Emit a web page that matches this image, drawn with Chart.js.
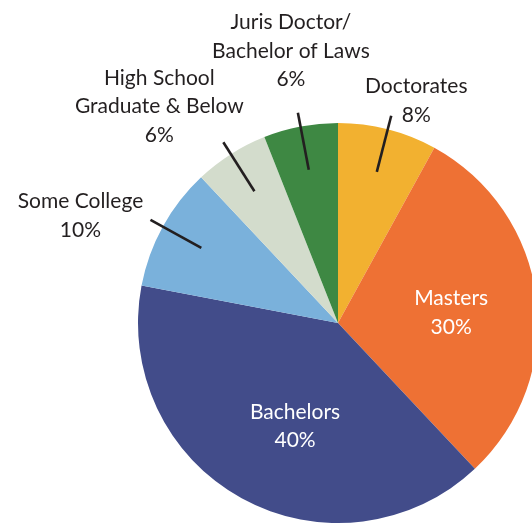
<!DOCTYPE html>
<html>
<head>
<meta charset="utf-8">
<script src="https://cdn.jsdelivr.net/npm/chart.js@4.4.1/dist/chart.umd.min.js"></script>
<style>
  html, body { margin: 0; padding: 0; background: #fff; overflow: hidden; }
  #wrap { width: 532px; height: 525px; overflow: hidden; position: relative; }
  canvas { display: block; }
</style>
</head>
<body>
<div id="wrap"><canvas id="c" width="542" height="525"></canvas></div>
<script>
const categories = ['Doctorates', 'Masters', 'Bachelors', 'Some College', 'High School Graduate & Below', 'Juris Doctor/Bachelor of Laws'];
const labelLines = [['Doctorates'], ['Masters'], ['Bachelors'], ['Some College'], ['High School', 'Graduate & Below'], ['Juris Doctor/', 'Bachelor of Laws']];
const shares = [8, 30, 40, 10, 6, 6];
const colors = ['#F2B130', '#EE7134', '#424C8A', '#7AB1DB', '#D3DCCC', '#3E8843'];

// label layout: inside or outside with leader line, and offset of text block centre from anchor
const labelStyle = [
  { inside: false, dx: 25, dy: -15 },
  { inside: true,  dx: 2,  dy: 4 },
  { inside: true,  dx: 11, dy: 5 },
  { inside: false, dx: -70, dy: -4 },
  { inside: false, dx: -64, dy: -36 },
  { inside: false, dx: -7, dy: -62 }
];

const FONT = '21px Lato';
const LINE_H = 28.5;

const labelPlugin = {
  id: 'pieLabels',
  afterDatasetsDraw(chart) {
    const ctx = chart.ctx;
    const meta = chart.getDatasetMeta(0);
    meta.data.forEach((arc, i) => {
      const p = arc.getProps(['x', 'y', 'startAngle', 'endAngle', 'outerRadius'], true);
      const mid = (p.startAngle + p.endAngle) / 2;
      const R = p.outerRadius;
      const st = labelStyle[i];
      let ax, ay;
      ctx.save();
      if (st.inside) {
        ax = p.x + Math.cos(mid) * R * 0.56;
        ay = p.y + Math.sin(mid) * R * 0.56;
      } else {
        const x1 = p.x + Math.cos(mid) * R * 0.78;
        const y1 = p.y + Math.sin(mid) * R * 0.78;
        ax = p.x + Math.cos(mid) * R * 1.07;
        ay = p.y + Math.sin(mid) * R * 1.07;
        ctx.strokeStyle = '#231F20';
        ctx.lineWidth = 2.6;
        ctx.beginPath();
        ctx.moveTo(x1, y1);
        ctx.lineTo(ax, ay);
        ctx.stroke();
      }
      const lines = labelLines[i].concat([shares[i] + '%']);
      const cx = ax + st.dx;
      const cy = ay + st.dy;
      ctx.font = FONT;
      ctx.fillStyle = st.inside ? '#FFFFFF' : '#231F20';
      ctx.textAlign = 'center';
      ctx.textBaseline = 'middle';
      const top = cy - (lines.length - 1) * LINE_H / 2;
      lines.forEach((t, k) => ctx.fillText(t, cx, top + k * LINE_H));
      ctx.restore();
    });
  }
};

function draw() {
  new Chart(document.getElementById('c'), {
    type: 'pie',
    data: {
      labels: categories,
      datasets: [{
        data: shares,
        backgroundColor: colors,
        borderWidth: 0
      }]
    },
    options: {
      responsive: false,
      animation: false,
      layout: { padding: { left: 138, right: 4, top: 123, bottom: 2 } },
      plugins: {
        legend: { display: false },
        tooltip: { enabled: false }
      }
    },
    plugins: [labelPlugin]
  });
}

if (document.fonts && document.fonts.load) {
  document.fonts.load(FONT).then(draw, draw);
} else {
  draw();
}
</script>
</body>
</html>
